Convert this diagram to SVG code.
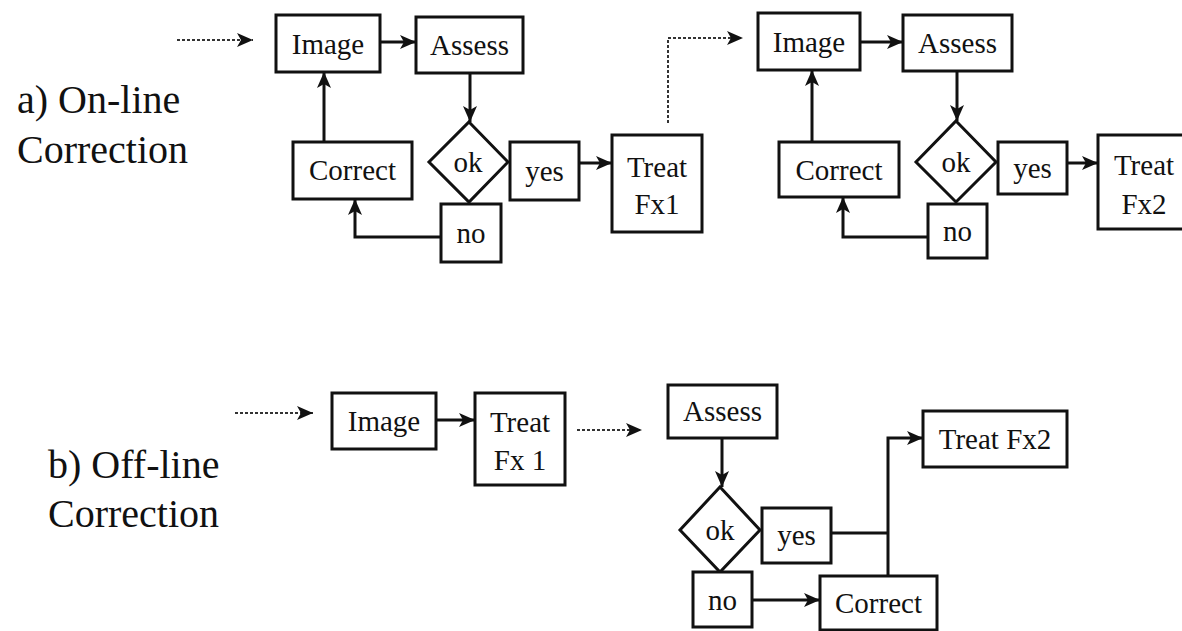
<svg xmlns="http://www.w3.org/2000/svg" width="1182" height="631" viewBox="0 0 1182 631">
<style>
.box{fill:#fff;stroke:#111;stroke-width:3}
.t{font-family:"Liberation Serif","Times New Roman",serif;font-size:29px;fill:#111;text-anchor:middle}
.lbl{font-family:"Liberation Serif","Times New Roman",serif;font-size:40px;fill:#111}
.c{fill:none;stroke:#111;stroke-width:3}
.d{fill:none;stroke:#333;stroke-width:2;stroke-dasharray:3 2}
</style>
<defs>
<marker id="ah" markerUnits="userSpaceOnUse" markerWidth="17" markerHeight="15" refX="16" refY="7" orient="auto">
<path d="M0,0 L16,7 L0,14 L4,7 z" fill="#111"/>
</marker>
</defs>
<rect width="1182" height="631" fill="#fff"/>
<g id="labels">
<text class="lbl" x="17" y="113">a) On-line</text>
<text class="lbl" x="17" y="163">Correction</text>
<text class="lbl" x="48" y="478">b) Off-line</text>
<text class="lbl" x="48" y="527">Correction</text>
</g>
<g id="connectors">
<path class="d" d="M177,40 L253,40" marker-end="url(#ah)"/>
<path class="c" d="M380,42 L416,42" marker-end="url(#ah)"/>
<path class="c" d="M470,73 L470,122" marker-end="url(#ah)"/>
<path class="c" d="M579,163 L612,163" marker-end="url(#ah)"/>
<path class="c" d="M324,142 L324,72" marker-end="url(#ah)"/>
<path class="c" d="M441,237 L355,237 L355,199" marker-end="url(#ah)"/>
<path class="d" d="M668,123 L668,38 L743,38" marker-end="url(#ah)"/>
<path class="c" d="M860,42 L903,42" marker-end="url(#ah)"/>
<path class="c" d="M957,71 L957,121" marker-end="url(#ah)"/>
<path class="c" d="M1067,163 L1098,163" marker-end="url(#ah)"/>
<path class="c" d="M812,142 L812,70" marker-end="url(#ah)"/>
<path class="c" d="M928,237 L843,237 L843,197" marker-end="url(#ah)"/>
<path class="d" d="M235,413 L313,413" marker-end="url(#ah)"/>
<path class="c" d="M436,420 L475,420" marker-end="url(#ah)"/>
<path class="d" d="M577,430 L642,430" marker-end="url(#ah)"/>
<path class="c" d="M722,438 L722,487" marker-end="url(#ah)"/>
<path class="c" d="M831,533 L888,533"/>
<path class="c" d="M888,576 L888,438 L923,438" marker-end="url(#ah)"/>
<path class="c" d="M752,600 L820,600" marker-end="url(#ah)"/>
</g>
<g id="image1"><rect class="box" x="276" y="15" width="104" height="57"/><text class="t" x="328" y="54">Image</text></g>
<g id="assess1"><rect class="box" x="416" y="17" width="107" height="56"/><text class="t" x="469.5" y="55">Assess</text></g>
<g id="correct1"><rect class="box" x="293" y="142" width="119" height="57"/><text class="t" x="352.5" y="180">Correct</text></g>
<g id="ok1"><polygon class="box" points="469,122 508,162 469,202 429,162"/><text class="t" x="468" y="172">ok</text></g>
<g id="yes1"><rect class="box" x="510" y="142" width="69" height="58"/><text class="t" x="544.5" y="181">yes</text></g>
<g id="no1"><rect class="box" x="441" y="204" width="60" height="58"/><text class="t" x="471" y="243">no</text></g>
<g id="treat1"><rect class="box" x="612" y="135" width="90" height="97"/><text class="t" x="657" y="177">Treat</text><text class="t" x="657" y="214">Fx1</text></g>
<g id="image2"><rect class="box" x="758" y="13" width="102" height="57"/><text class="t" x="809" y="52">Image</text></g>
<g id="assess2"><rect class="box" x="903" y="15" width="109" height="56"/><text class="t" x="957.5" y="53">Assess</text></g>
<g id="correct2"><rect class="box" x="779" y="142" width="120" height="55"/><text class="t" x="839" y="180">Correct</text></g>
<g id="ok2"><polygon class="box" points="956,121 996,162 956,202 916,162"/><text class="t" x="956" y="172">ok</text></g>
<g id="yes2"><rect class="box" x="998" y="142" width="69" height="52"/><text class="t" x="1032.5" y="178">yes</text></g>
<g id="no2"><rect class="box" x="928" y="204" width="59" height="54"/><text class="t" x="957.5" y="241">no</text></g>
<g id="treat2"><rect class="box" x="1098" y="135" width="92" height="94"/><text class="t" x="1144" y="175">Treat</text><text class="t" x="1144" y="214">Fx2</text></g>
<g id="image3"><rect class="box" x="332" y="393" width="104" height="56"/><text class="t" x="384" y="431">Image</text></g>
<g id="treat3"><rect class="box" x="475" y="393" width="90" height="92"/><text class="t" x="520" y="432">Treat</text><text class="t" x="520" y="470">Fx 1</text></g>
<g id="assess3"><rect class="box" x="668" y="385" width="109" height="53"/><text class="t" x="722.5" y="421">Assess</text></g>
<g id="treat4"><rect class="box" x="923" y="411" width="144" height="56"/><text class="t" x="995" y="449">Treat Fx2</text></g>
<g id="ok3"><polygon class="box" points="720,487 760,530 720,572 680,530"/><text class="t" x="720" y="540">ok</text></g>
<g id="yes3"><rect class="box" x="762" y="508" width="69" height="55"/><text class="t" x="796.5" y="545">yes</text></g>
<g id="no3"><rect class="box" x="693" y="572" width="59" height="55"/><text class="t" x="722.5" y="610">no</text></g>
<g id="correct3"><rect class="box" x="820" y="576" width="117" height="54"/><text class="t" x="878.5" y="613">Correct</text></g>
</svg>
